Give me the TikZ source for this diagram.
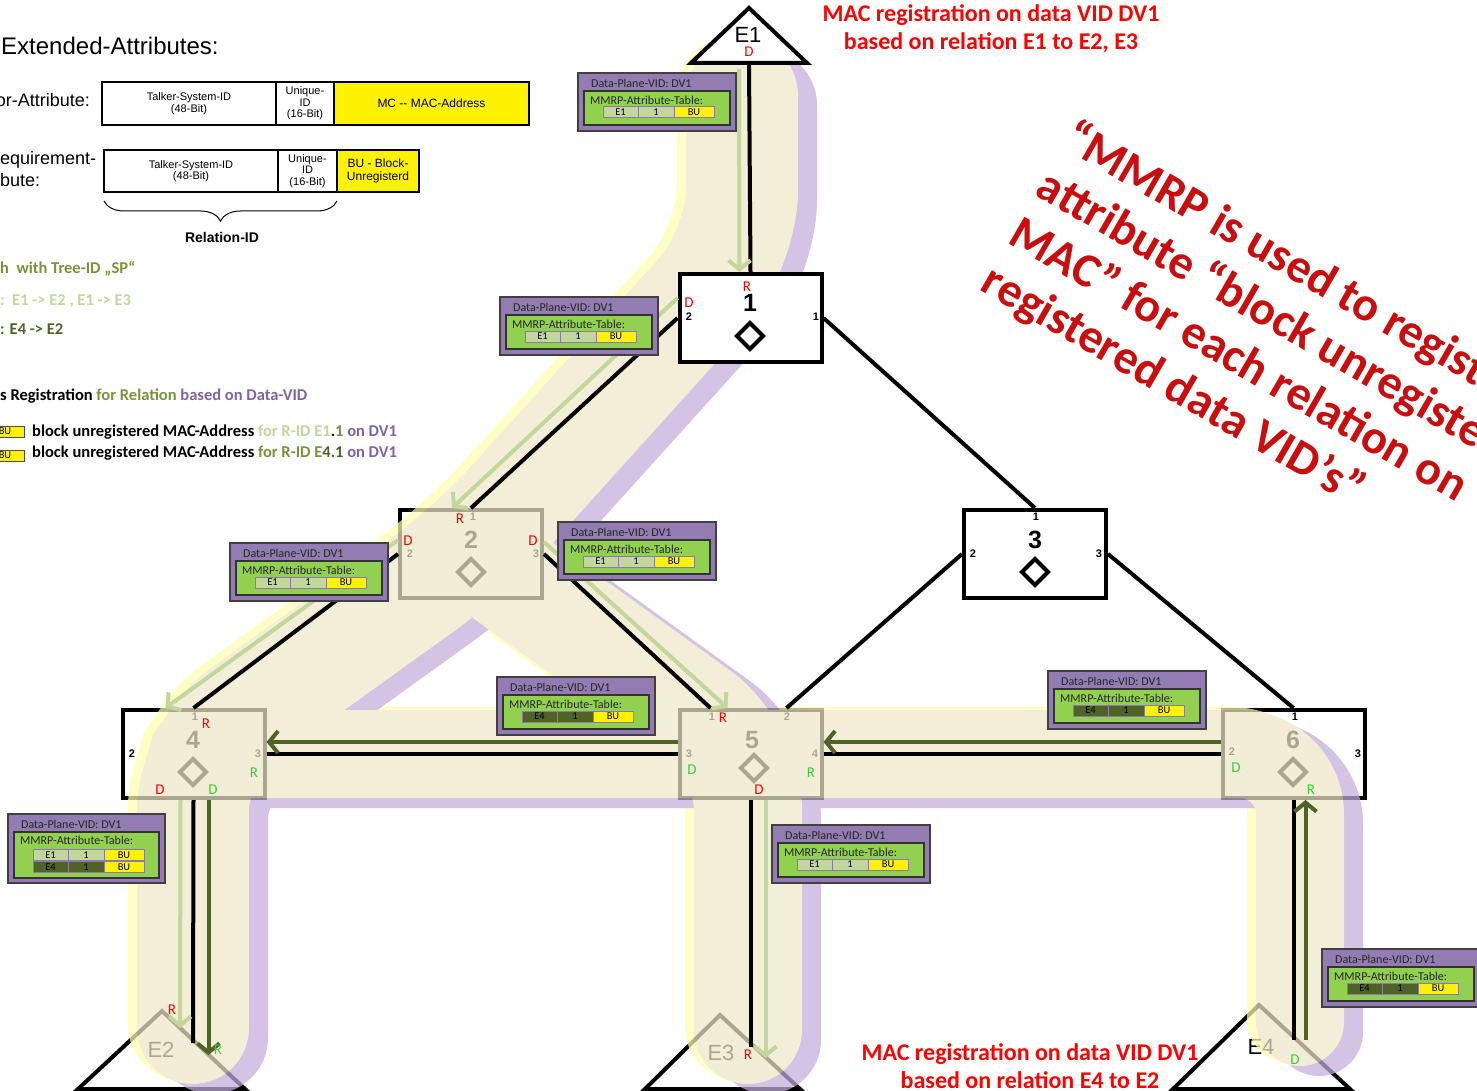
\documentclass[tikz,border=0pt]{standalone}
\usepackage{fontspec}
\setmainfont{Carlito}
\newfontfamily\arialf{Liberation Sans}
\usetikzlibrary{arrows.meta,decorations.pathreplacing}
\definecolor{bandbeige}{RGB}{238,231,200}
\definecolor{bandpurple}{RGB}{195,172,218}
\definecolor{bandyellow}{RGB}{255,255,175}
\definecolor{lgreen}{RGB}{195,214,155}
\definecolor{dgreen}{RGB}{79,98,40}
\definecolor{olivegr}{RGB}{119,147,60}
\definecolor{txtpurple}{RGB}{128,100,162}
\definecolor{tabpurple}{RGB}{146,124,178}
\definecolor{tabgreen}{RGB}{146,208,80}
\definecolor{cellborder}{RGB}{140,120,170}
\definecolor{brgreen}{RGB}{60,205,60}
\definecolor{bigred}{RGB}{200,14,14}
\definecolor{brred}{RGB}{255,0,0}

\newcommand\BandPaths{%
 \draw[line width=112] (742,95) -- (742,250) -- (471,550) -- (193,750) -- (193,1028);
 \draw[line width=108] (471,550) -- (748,750) -- (748,1030);
 \draw[line width=88] (1300,1022) -- (1300,754) -- (193,754);
}
\newcommand\Dmd[2]{\draw[dmd] (#1,#2-13) -- (#1+13,#2) -- (#1,#2+13) -- (#1-13,#2) -- cycle;}
\newcommand\DPTabOne[5]{%
\begin{scope}[shift={(#2,#3)}]
 \draw[tabouter] (0,0) rectangle (158,58);
 \node[tabtxt, anchor=west] (#1t) at (13,10) {Data-Plane-VID: DV1};
 \draw[tabinner] (6,18) rectangle (152,52);
 \node[tabtxt, anchor=west] (#1m) at (12,27) {MMRP-Attribute-Table:};
 \node[cell, fill=#4, minimum width=35] (#1a) at (42.5,39.5) {#5};
 \node[cell, fill=#4] (#1b) at (78,39.5) {1};
 \node[cell, fill=yellow, minimum width=40] (#1c) at (116,39.5) {BU};
\end{scope}}
\newcommand\DPTabTwo[3]{%
\begin{scope}[shift={(#2,#3)}]
 \draw[tabouter] (0,0) rectangle (157,69);
 \node[tabtxt, anchor=west] (#1t) at (13,10) {Data-Plane-VID: DV1};
 \draw[tabinner] (6,18) rectangle (151,64);
 \node[tabtxt, anchor=west] (#1m) at (12,26) {MMRP-Attribute-Table:};
 \node[cell, fill=lgreen, minimum width=35] (#1a) at (42.5,41) {E1};
 \node[cell, fill=lgreen] (#1b) at (78,41) {1};
 \node[cell, fill=yellow, minimum width=40] (#1c) at (116,41) {BU};
 \node[cell, fill=dgreen, minimum width=35] (#1d) at (42.5,53) {E4};
 \node[cell, fill=dgreen] (#1e) at (78,53) {1};
 \node[cell, fill=yellow, minimum width=40] (#1f) at (116,53) {BU};
\end{scope}}

\begin{document}
\begin{tikzpicture}[x=1pt,y=-1pt,
 box/.style={draw, line width=4, minimum width=142, minimum height=88, inner sep=0, fill=white},
 bignum/.style={inner sep=0, font=\arialf\bfseries\fontsize{25}{25}\selectfont},
 portn/.style={inner sep=0, font=\arialf\bfseries\fontsize{11}{11}\selectfont},
 dmd/.style={line width=4, line join=miter},
 tri/.style={line width=4, line join=miter},
 elab/.style={inner sep=0, font=\arialf\fontsize{22}{22}\selectfont},
 conn/.style={line width=4, black},
 lgarrow/.style={line width=4, draw=lgreen, -{Straight Barb[length=9pt,width=22pt]}},
 dgarrow/.style={line width=4, draw=dgreen, -{Straight Barb[length=9pt,width=22pt]}},
 rdl/.style={inner sep=0, font=\fontsize{15}{15}\selectfont},
 tabouter/.style={fill=tabpurple, draw=black!75, line width=1.3},
 tabinner/.style={fill=tabgreen, draw=black!80, line width=1.3},
 tabtxt/.style={inner sep=0, font=\fontsize{12}{12}\selectfont, text=black!85},
 cell/.style={draw=cellborder, line width=1, minimum height=11, minimum width=36, inner sep=0, font=\fontsize{10.5}{10.5}\selectfont},
 lt/.style={draw, line width=1.2, inner sep=0, align=center, font=\arialf\fontsize{11}{11.5}\selectfont},
 legtxt/.style={inner sep=0, anchor=west, font=\bfseries\fontsize{16.5}{16.5}\selectfont},
 bulegend/.style={draw=black!70, line width=1, fill=yellow, inner sep=0, minimum width=38, minimum height=11, font=\fontsize{10.5}{10.5}\selectfont},
 bandline/.style={line cap=round, line join=round, rounded corners=60}
]
\useasboundingbox (0,0) rectangle (1477,1091);

% ---------- elements under the highlight bands ----------
\node[box] (b2) at (471,554) {};
\node[bignum] (b2n) at (471,540) {2};
\node[portn] (b2p1) at (473,517) {1};
\node[portn] (b2p2) at (410,554) {2};
\node[portn] (b2p3) at (536,554) {3};
\Dmd{471}{572}

\node[box] (b4) at (193.5,754) {};
\node[bignum] (b4n) at (193,740) {4};
\node[portn] (b4p1) at (195,717) {1};
\node[portn] (b4p2) at (132,754) {2};
\node[portn] (b4p3) at (258,754) {3};
\Dmd{193}{772}

\node[box] (b5) at (750.5,754) {};
\node[bignum] (b5n) at (752,740) {5};
\node[portn] (b5p1) at (712,717) {1};
\node[portn] (b5p2) at (787,717) {2};
\node[portn] (b5p3) at (689,754) {3};
\node[portn] (b5p4) at (815,754) {4};
\Dmd{754}{768}

\node[box] (b6) at (1293.5,754) {};
\node[bignum] (b6n) at (1293,740) {6};
\node[portn] (b6p1) at (1295,717) {1};
\node[portn] (b6p2) at (1232,752) {2};
\node[portn] (b6p3) at (1358,754) {3};
\Dmd{1293}{772}

\draw[tri, fill=white] (78,1089) -- (162,1011) -- (245,1089) -- cycle;
\node[elab] (e2) at (161,1050) {E2};
\draw[tri, fill=white] (645,1089) -- (720,1015) -- (800,1089) -- cycle;
\node[elab] (e3) at (721,1053) {E3};
\draw[tri, fill=white] (1173,1089) -- (1259,1005) -- (1350,1089) -- cycle;
\node[elab] (e4) at (1261,1047) {E4};

% ---------- highlight bands ----------
\begin{scope}[transparency group, opacity=0.72]
 \begin{scope}[shift={(-9,-3)}, bandline, color=bandyellow] \BandPaths \end{scope}
 \begin{scope}[shift={(19,10)}, bandline, color=bandpurple] \BandPaths \end{scope}
 \begin{scope}[bandline, color=bandbeige] \BandPaths \end{scope}
\end{scope}

% ---------- elements above the bands ----------
\node[box] (b1) at (750.5,318) {};
\node[bignum] (b1n) at (750,303) {1};
\node[portn] (b1p2) at (689,317) {2};
\node[portn] (b1p1) at (816,317) {1};
\Dmd{750}{336}

\node[box] (b3) at (1035,554) {};
\node[bignum] (b3n) at (1035,540) {3};
\node[portn] (b3p1) at (1036,517) {1};
\node[portn] (b3p2) at (973,554) {2};
\node[portn] (b3p3) at (1099,554) {3};
\Dmd{1035}{572}

\draw[tri, fill=white] (691,63) -- (749,8) -- (807,63) -- cycle;
\node[elab] (e1) at (748,35) {E1};
\coordinate (e1b) at (749,63);

% connectors
\coordinate (e2c) at (193,1043);
\coordinate (e3c) at (750.5,1047);
\coordinate (e4c) at (1293.5,1040);
\draw[conn] (e1b) -- (b1.north);
\draw[conn] (b1.west) -- (b2.north);
\draw[conn] (b1.east) -- (b3.north);
\draw[conn] (b2.west) -- (b4.north);
\draw[conn] (b2.east) -- ([xshift=-40]b5.north);
\draw[conn] (b3.west) -- ([xshift=36]b5.north);
\draw[conn] (b3.east) -- (b6.north);
\draw[conn] (b4.east) -- (b5.west);
\draw[conn] (b5.east) -- (b6.west);
\draw[conn] (b4.south) -- (e2c);
\draw[conn] (b5.south) -- (e3c);
\draw[conn] (b6.south) -- (e4c);

% relation arrows
\coordinate (e2l) at (180,1028);
\coordinate (e3l) at (765.5,1058);
\coordinate (e4d) at (1305.5,1040);
\coordinate (e2d) at (208.5,1055);
\draw[lgarrow] ([xshift=-10,yshift=-6]e1b) -- ([xshift=-11]b1.north);
\draw[lgarrow] ([yshift=20]b1.west) -- ([xshift=-19]b2.north);
\draw[lgarrow] ([yshift=14]b2.west) -- ([xshift=-28]b4.north);
\draw[lgarrow] ([yshift=12]b2.east) -- ([xshift=-23]b5.north);
\draw[lgarrow] ([xshift=-13]b4.south) -- (e2l);
\draw[lgarrow] ([xshift=15]b5.south) -- (e3l);
\draw[dgarrow] (e4d) -- ([xshift=12]b6.south);
\draw[dgarrow] ([yshift=12]b6.west) -- ([yshift=12]b5.east);
\draw[dgarrow] ([yshift=12]b5.west) -- ([yshift=12]b4.east);
\draw[dgarrow] ([xshift=15]b4.south) -- (e2d);

% R / D labels
\node[rdl, text=brred] (l1) at (749,52) {D};
\node[rdl, text=brred] (l2) at (747,287) {R};
\node[rdl, text=brred] (l3) at (689,303) {D};
\node[rdl, text=brred] (l4) at (460,519) {R};
\node[rdl, text=brred] (l5) at (408,541) {D};
\node[rdl, text=brred] (l6) at (533,541) {D};
\node[rdl, text=brred] (l7) at (206,724) {R};
\node[rdl, text=brgreen] (l8) at (254,773) {R};
\node[rdl, text=brred] (l9) at (160,790) {D};
\node[rdl, text=brgreen] (l10) at (213,790) {D};
\node[rdl, text=brred] (l11) at (723,718) {R};
\node[rdl, text=brgreen] (l12) at (692,770) {D};
\node[rdl, text=brgreen] (l13) at (811,773) {R};
\node[rdl, text=brred] (l14) at (759,790) {D};
\node[rdl, text=brgreen] (l15) at (1236,768) {D};
\node[rdl, text=brgreen] (l16) at (1311,790) {R};
\node[rdl, text=brred] (l17) at (172,1010) {R};
\node[rdl, text=brgreen] (l18) at (218,1050) {R};
\node[rdl, text=brred] (l19) at (748,1055) {R};
\node[rdl, text=brgreen] (l20) at (1295,1060) {D};

% tables
\DPTabOne{t1}{578}{73}{lgreen}{E1}
\DPTabOne{t2}{500}{297}{lgreen}{E1}
\DPTabOne{t3}{230}{543}{lgreen}{E1}
\DPTabOne{t4}{558}{522}{lgreen}{E1}
\DPTabOne{t5}{497}{677}{dgreen}{E4}
\DPTabTwo{t6}{8}{814}
\DPTabOne{t7}{772}{825}{lgreen}{E1}
\DPTabOne{t8}{1048}{671}{dgreen}{E4}
\DPTabOne{t9}{1322}{949}{dgreen}{E4}

% ---------- texts ----------
\node[text=brred, font=\bfseries\fontsize{24}{28}\selectfont, align=center, inner sep=0] (toptxt) at (991,29) {MAC registration on data VID DV1\\based on relation E1 to E2, E3};
\node[text=brred, font=\bfseries\fontsize{24}{28}\selectfont, align=center, inner sep=0] (bottxt) at (1030,1066) {MAC registration on data VID DV1\\based on relation E4 to E2};
\node[text=bigred, font=\bfseries\fontsize{48}{55}\selectfont, align=left, inner sep=0, rotate=-30, anchor=north west] (bigtxt) at (1079,116) {“MMRP is used to register\\attribute “block unregistered\\MAC” for each relation on\\registered data VID’s”};

\node[inner sep=0, anchor=west, font=\arialf\fontsize{24}{24}\selectfont] (ext) at (1,46) {Extended-Attributes:};
\node[inner sep=0, anchor=east, font=\arialf\fontsize{18}{18}\selectfont] (attr1) at (90,100) {or-Attribute:};
\node[inner sep=0, anchor=west, font=\arialf\fontsize{18}{22}\selectfont, align=left] (attr2) at (0,169) {equirement-\\bute:};

\node[lt, minimum width=174, minimum height=43] (ta1) at (189,103.5) {Talker-System-ID\\(48-Bit)};
\node[lt, minimum width=58, minimum height=43] (ta2) at (305,103.5) {Unique-\\ID\\(16-Bit)};
\node[lt, minimum width=195, minimum height=43, fill=yellow, font=\arialf\fontsize{12}{12}\selectfont] (ta3) at (431.5,103.5) {MC -- MAC-Address};
\node[lt, minimum width=174, minimum height=42] (tb1) at (191,171) {Talker-System-ID\\(48-Bit)};
\node[lt, minimum width=59, minimum height=42] (tb2) at (307.5,171) {Unique-\\ID\\(16-Bit)};
\node[lt, minimum width=82, minimum height=42, fill=yellow, font=\arialf\fontsize{12}{13}\selectfont] (tb3) at (378,171) {BU - Block-\\Unregisterd};
\draw[line width=1, decorate, decoration={brace, amplitude=20pt, mirror}] (104,201) -- (337,201);
\node[inner sep=0, font=\arialf\bfseries\fontsize{14}{14}\selectfont] (relid) at (222,237) {Relation-ID};

\node[legtxt, text=olivegr] (lg1) at (0,269) {h\ \ with Tree-ID „SP“};
\node[legtxt, text=lgreen] (lg2) at (0,301) {:\ \ E1 -> E2 , E1 -> E3};
\node[legtxt, text=dgreen] (lg3) at (0,329) {: E4 -> E2};
\node[legtxt] (lg4) at (0,396) {s Registration \textcolor{olivegr}{for Relation} \textcolor{txtpurple}{based on Data-VID}};
\node[bulegend] (bu1) at (5,431.5) {BU};
\node[bulegend] (bu2) at (5,455.5) {BU};
\node[legtxt] (lg5) at (32,432) {block unregistered MAC-Address \textcolor{lgreen}{for R-ID E1}.\textcolor{olivegr}{1} \textcolor{txtpurple}{on DV1}};
\node[legtxt] (lg6) at (32,453) {block unregistered MAC-Address \textcolor{olivegr}{for R-ID E}\textcolor{dgreen}{4.1} \textcolor{txtpurple}{on DV1}};
\end{tikzpicture}
\end{document}
